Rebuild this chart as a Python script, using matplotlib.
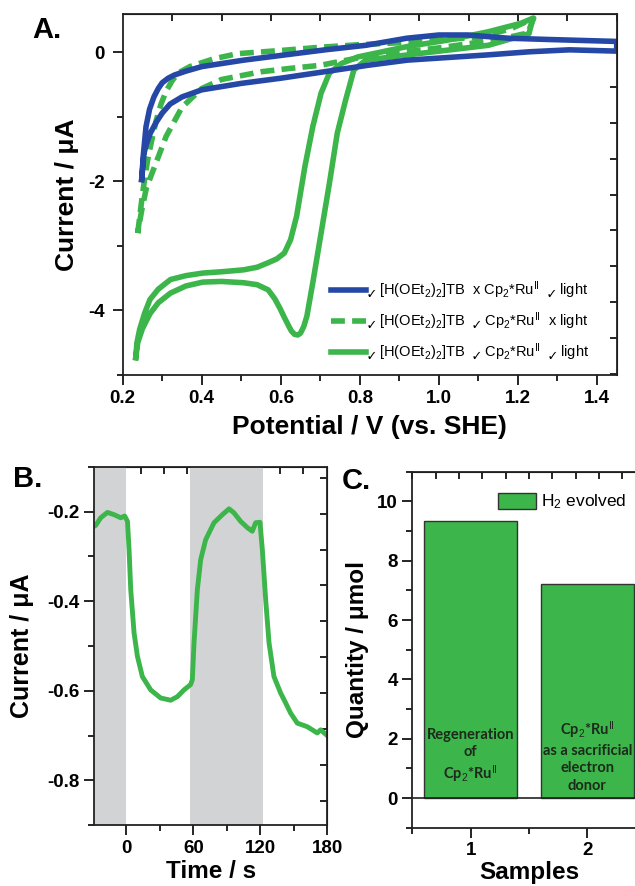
import matplotlib
matplotlib.use("Agg")
import matplotlib.pyplot as plt
from matplotlib.lines import Line2D
from matplotlib.patches import Patch
from matplotlib.ticker import MultipleLocator, FixedLocator

plt.rcParams['font.family'] = ['Liberation Sans', 'DejaVu Sans']
plt.rcParams['mathtext.fontset'] = 'custom'
plt.rcParams['mathtext.rm'] = 'Liberation Sans'
plt.rcParams['mathtext.it'] = 'Liberation Sans:italic'
plt.rcParams['mathtext.bf'] = 'Liberation Sans:bold'
plt.rcParams['mathtext.fallback'] = 'stixsans'

BLUE = "#2548a6"
GREEN = "#3cb54a"
GRAY = "#d2d3d4"

# --- A: cyclic voltammograms (potential V vs SHE, current uA) ---
blue_v = [0.248, 0.252, 0.259, 0.268, 0.279, 0.290, 0.300, 0.315, 0.331, 0.360, 0.400, 0.506, 0.609, 0.712, 0.815,
          0.919, 1.000, 1.073, 1.176, 1.279, 1.450,
          1.450, 1.330, 1.230, 1.120, 0.920, 0.820, 0.710, 0.600, 0.500, 0.400, 0.350, 0.320, 0.300, 0.285, 0.270,
          0.260, 0.254, 0.248]
blue_i = [-1.97, -1.60, -1.15, -0.88, -0.69, -0.56, -0.47, -0.40, -0.35, -0.29, -0.22, -0.12, -0.04, 0.04, 0.11,
          0.22, 0.27, 0.27, 0.22, 0.20, 0.17,
          0.02, 0.04, 0.01, -0.04, -0.12, -0.20, -0.30, -0.40, -0.48, -0.58, -0.69, -0.80, -0.94, -1.08, -1.25,
          -1.42, -1.56, -1.97]

dash_v = [0.238, 0.244, 0.250, 0.257, 0.265, 0.275, 0.285, 0.297, 0.310, 0.325, 0.340, 0.370, 0.430, 0.490, 0.600,
          0.700, 0.800, 0.900, 1.000, 1.100, 1.180, 1.240,
          1.225, 1.150, 1.000, 0.900, 0.800, 0.700, 0.620, 0.550, 0.450, 0.400, 0.350, 0.310, 0.285, 0.260, 0.248,
          0.238]
dash_i = [-2.80, -2.50, -2.20, -1.90, -1.60, -1.32, -1.05, -0.80, -0.60, -0.44, -0.32, -0.22, -0.10, -0.02, 0.03,
          0.08, 0.12, 0.15, 0.19, 0.24, 0.36, 0.53,
          0.30, 0.20, 0.07, 0.00, -0.08, -0.20, -0.25, -0.30, -0.42, -0.56, -0.85, -1.30, -1.70, -2.10, -2.45,
          -2.80]

solid_v = [0.233, 0.236, 0.243, 0.255, 0.269, 0.290, 0.321, 0.360, 0.403, 0.450, 0.506, 0.540, 0.568, 0.590, 0.609,
           0.625, 0.640, 0.661, 0.681, 0.702, 0.723, 0.754, 0.795, 0.919, 1.022, 1.125, 1.207, 1.238,
           1.228, 1.125, 0.919, 0.815, 0.785, 0.764, 0.743, 0.723, 0.702, 0.681, 0.666, 0.658, 0.650, 0.643, 0.635,
           0.627, 0.620, 0.610, 0.599, 0.585, 0.568, 0.540, 0.506, 0.450, 0.403, 0.360, 0.321, 0.290, 0.269, 0.250,
           0.238, 0.233]
solid_i = [-4.73, -4.50, -4.29, -4.05, -3.83, -3.67, -3.52, -3.46, -3.42, -3.40, -3.37, -3.33, -3.26, -3.20, -3.11,
           -2.90, -2.54, -1.77, -1.15, -0.63, -0.32, -0.17, -0.07, 0.09, 0.19, 0.32, 0.45, 0.53,
           0.29, 0.11, -0.04, -0.12, -0.27, -0.74, -1.25, -2.03, -2.80, -3.57, -4.09, -4.25, -4.35, -4.38, -4.37,
           -4.32, -4.24, -4.12, -3.98, -3.82, -3.68, -3.60, -3.57, -3.55, -3.56, -3.62, -3.73, -3.88, -4.05, -4.28,
           -4.50, -4.73]

CK = r"$_{\checkmark}$"
legend_labels = [
    CK + r" [H(OEt$_2$)$_2$]TB  x Cp$_2$*Ru$^{\mathrm{II}}$  " + CK + " light",
    CK + r" [H(OEt$_2$)$_2$]TB  " + CK + r" Cp$_2$*Ru$^{\mathrm{II}}$  x light",
    CK + r" [H(OEt$_2$)$_2$]TB  " + CK + r" Cp$_2$*Ru$^{\mathrm{II}}$  " + CK + " light",
]

# --- B: chronoamperometry ---
time_s = [-29, -27.5, -23, -17, -11, -5, -1.5, 1, 2.4, 3.9, 6.9, 9.9, 14.3, 21.8, 30.7, 39.7, 45.7, 51.6, 57.6, 59.1,
          60.6, 63.6, 66.6, 71, 78.5, 86, 92, 96.4, 102.4, 108.4, 112.8, 115.8, 119.7, 121.8, 124.8, 127.8, 132.2,
          138.2, 142.7, 147.2, 153.1, 162, 171, 174, 180]
current_ua = [-0.233, -0.231, -0.214, -0.202, -0.207, -0.214, -0.210, -0.222, -0.285, -0.374, -0.471, -0.523, -0.568,
              -0.598, -0.616, -0.621, -0.613, -0.598, -0.586, -0.575, -0.493, -0.374, -0.307, -0.263, -0.225, -0.207,
              -0.194, -0.203, -0.222, -0.236, -0.244, -0.225, -0.224, -0.285, -0.397, -0.493, -0.568, -0.605, -0.627,
              -0.650, -0.672, -0.680, -0.694, -0.687, -0.700]
light_on = [(-29, 0), (57, 122)]

# --- C: H2 evolved ---
samples = [1, 2]
h2_umol = [9.34, 7.2]
bar_texts = ["Regeneration\nof\nCp$_2$*Ru$^{\\mathrm{II}}$",
             "Cp$_2$*Ru$^{\\mathrm{II}}$\nas a sacrificial\nelectron\ndonor"]
bar_text_y = [1.4, 1.42]

W, H = 635, 886
fig = plt.figure(figsize=(W / 100, H / 100), dpi=100)


def frac(l, t, r, b):
    return [l / W, 1 - b / H, (r - l) / W, (b - t) / H]


def style_ticks(ax):
    ax.tick_params(which='both', direction='out', labelsize=13.5, width=1.2)
    ax.tick_params(which='major', length=7)
    ax.tick_params(which='minor', length=4)
    for lab in ax.get_xticklabels() + ax.get_yticklabels():
        lab.set_fontweight('bold')


# ---------------- Panel A ----------------
axA = fig.add_axes(frac(122.7, 13.7, 616.7, 375))
axA.plot(solid_v, solid_i, color=GREEN, lw=4, solid_joinstyle='round')
axA.plot(dash_v, dash_i, color=GREEN, lw=4, ls=(0, (2.5, 1.3)))
axA.plot(blue_v, blue_i, color=BLUE, lw=4, solid_joinstyle='round')
axA.set_xlim(0.2, 1.45)
axA.set_ylim(-5, 0.6)
axA.xaxis.set_major_locator(MultipleLocator(0.2))
axA.xaxis.set_minor_locator(MultipleLocator(0.1))
axA.yaxis.set_major_locator(MultipleLocator(2))
axA.yaxis.set_minor_locator(MultipleLocator(1))
axA.xaxis.set_major_formatter(plt.FuncFormatter(lambda v, p: f"{v:.1f}"))
axA.yaxis.set_major_formatter(plt.FuncFormatter(lambda v, p: f"{v:.0f}"))
style_ticks(axA)
axA.tick_params(axis='y', which='major', pad=6)
secA = axA.secondary_xaxis('top')
secA.xaxis.set_major_locator(FixedLocator([0.325 + 0.125 * k for k in range(10)]))
secA.tick_params(direction='in', labeltop=False, length=5, width=1.2)
secAy = axA.secondary_yaxis('right')
secAy.yaxis.set_major_locator(FixedLocator([-0.54 - 0.555 * k for k in range(9)]))
secAy.tick_params(direction='in', labelright=False, length=5, width=1.2)
axA.set_xlabel("Potential / V (vs. SHE)", fontsize=19, fontweight='bold', labelpad=6)
axA.set_ylabel("Current / μA", fontsize=19, fontweight='bold', va='center')
axA.yaxis.set_label_coords(-0.113, 0.5)
handles = [Line2D([], [], color=BLUE, lw=4),
           Line2D([], [], color=GREEN, lw=4, ls=(0, (2.5, 1.3))),
           Line2D([], [], color=GREEN, lw=4)]
axA.legend(handles, legend_labels, loc='lower left', bbox_to_anchor=(0.395, -0.004), frameon=False,
           fontsize=10.5, handlelength=2.4, handletextpad=0.1, labelspacing=0.65)
fig.text(32 / W, 1 - 30 / H, "A.", fontsize=21, fontweight='bold', va='center', ha='left')

# ---------------- Panel B ----------------
axB = fig.add_axes(frac(94, 466.7, 327.3, 825.3))
for a, b in light_on:
    axB.axvspan(a, b, color=GRAY, lw=0)
axB.plot(time_s, current_ua, color=GREEN, lw=3.5, solid_joinstyle='round')
axB.set_xlim(-29, 180)
axB.set_ylim(-0.9, -0.1)
axB.xaxis.set_major_locator(FixedLocator([0, 60, 120, 180]))
axB.xaxis.set_minor_locator(FixedLocator([30, 90, 150]))
axB.yaxis.set_major_locator(MultipleLocator(0.2))
axB.yaxis.set_minor_locator(MultipleLocator(0.1))
axB.yaxis.set_major_formatter(plt.FuncFormatter(lambda v, p: f"{v:.1f}"))
style_ticks(axB)
secB = axB.secondary_xaxis('top')
secB.xaxis.set_major_locator(FixedLocator([-8 + 20.8 * k for k in range(9)]))
secB.tick_params(direction='in', labeltop=False, length=5, width=1.2)
secBy = axB.secondary_yaxis('right')
secBy.yaxis.set_major_locator(FixedLocator([-0.125 - 0.08 * k for k in range(10)]))
secBy.tick_params(direction='in', labelright=False, length=5, width=1.2)
axB.set_xlabel("Time / s", fontsize=17.5, fontweight='bold', labelpad=2)
axB.set_ylabel("Current / μA", fontsize=18, fontweight='bold', va='center')
axB.yaxis.set_label_coords(-0.309, 0.5)
fig.text(13 / W, 1 - 479 / H, "B.", fontsize=21, fontweight='bold', va='center', ha='left')

# ---------------- Panel C ----------------
axC = fig.add_axes(frac(412.3, 471.7, 645.7, 827.7))
axC.bar(samples, h2_umol, width=0.8, color=GREEN, edgecolor="#333333", lw=1.0)
axC.axhline(0, color="#222222", lw=1.2)
for x, txt, ty in zip(samples, bar_texts, bar_text_y):
    axC.text(x, ty, txt, ha='center', va='center', fontsize=10.5, fontweight='bold', color="#1c2a1c",
             family='Lato', linespacing=1.3)
axC.set_xlim(0.5, 2.5)
axC.set_ylim(-1, 11)
axC.xaxis.set_major_locator(FixedLocator(samples))
axC.xaxis.set_minor_locator(FixedLocator([0.5, 1.5, 2.5]))
axC.yaxis.set_major_locator(MultipleLocator(2))
axC.yaxis.set_minor_locator(MultipleLocator(1))
style_ticks(axC)
secC = axC.secondary_xaxis('top')
secC.xaxis.set_major_locator(FixedLocator([0.5 + 0.2 * k for k in range(11)]))
secC.tick_params(direction='in', labeltop=False, length=5, width=1.2)
axC.set_xlabel("Samples", fontsize=17.5, fontweight='bold', labelpad=1)
axC.set_ylabel("Quantity / μmol", fontsize=17.5, fontweight='bold', va='center')
axC.yaxis.set_label_coords(-0.233, 0.5)
axC.legend(handles=[Patch(facecolor=GREEN, edgecolor="#333333", label="H$_2$ evolved")],
           loc='upper left', bbox_to_anchor=(0.30, 0.985), frameon=False, fontsize=12.5,
           handlelength=2.2, handleheight=1.05, handletextpad=0.3)
fig.text(342 / W, 1 - 481 / H, "C.", fontsize=21, fontweight='bold', va='center', ha='left')

for ax in (axA, axB, axC):
    for s in ax.spines.values():
        s.set_linewidth(1.3)
        s.set_color("#222222")

fig.savefig("out.png", dpi=100)
